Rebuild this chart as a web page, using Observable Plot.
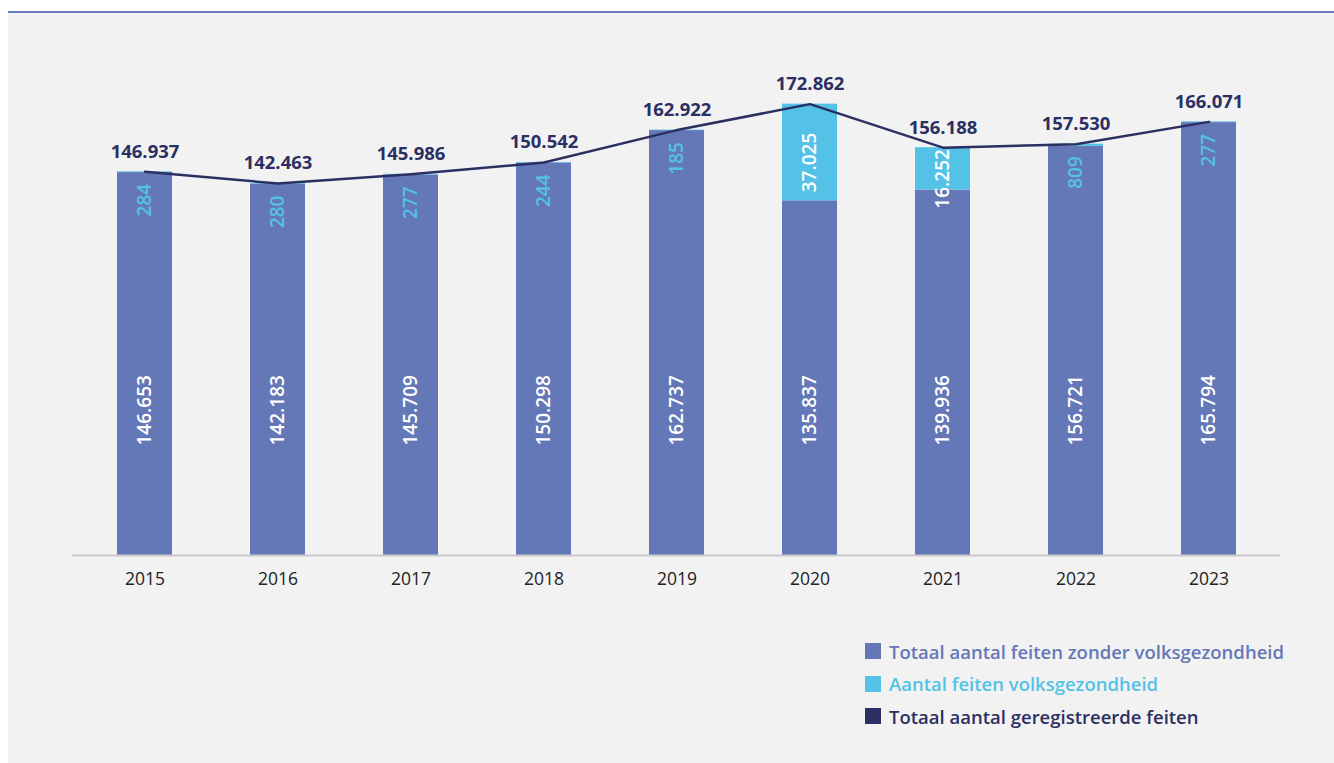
<!DOCTYPE html>
<html>
<head>
<meta charset="utf-8">
<script src="https://cdn.jsdelivr.net/npm/d3@7"></script>
<script src="https://cdn.jsdelivr.net/npm/@observablehq/plot@0.6"></script>
<style>
  html, body { margin: 0; padding: 0; background: #ffffff; }
  body { width: 1334px; height: 763px; position: relative; overflow: hidden; font-family: "Open Sans", sans-serif; }
  #panel { position: absolute; left: 8px; top: 11px; width: 1326px; height: 752px; background: #f2f2f2; border-top: 2px solid #6b7bbf; }
  #chart { position: absolute; left: 0; top: 0; }
  #legend { position: absolute; left: 857px; top: 622px; }
  .item { display: flex; align-items: center; height: 32.5px; font-size: 18.5px; font-weight: 600; }
  .sw { width: 16px; height: 16px; margin-right: 8px; }
</style>
</head>
<body>
<div id="panel">
  <div id="chart"></div>
  <div id="legend"></div>
</div>
<script>
const years = ["2015", "2016", "2017", "2018", "2019", "2020", "2021", "2022", "2023"];
const zonderVolks = [146653, 142183, 145709, 150298, 162737, 135837, 139936, 156721, 165794];
const volks = [284, 280, 277, 244, 185, 37025, 16252, 809, 277];
const totaal = [146937, 142463, 145986, 150542, 162922, 172862, 156188, 157530, 166071];
const seriesNames = [
  "Totaal aantal feiten zonder volksgezondheid",
  "Aantal feiten volksgezondheid",
  "Totaal aantal geregistreerde feiten"
];
const colors = ["#6478b8", "#54c1e6", "#2b2f62"];

const nl = d3.formatLocale({decimal: ",", thousands: ".", grouping: [3], currency: ["€", ""]});
const fmt = nl.format(",d");

const rows = years.map((y, i) => ({year: y, zonder: zonderVolks[i], volks: volks[i], total: totaal[i]}));
const stacked = [];
rows.forEach(r => {
  stacked.push({year: r.year, series: seriesNames[0], value: r.zonder});
  stacked.push({year: r.year, series: seriesNames[1], value: r.volks});
});

const chart = Plot.plot({
  width: 1326,
  height: 600,
  marginLeft: 64,
  marginRight: 54,
  marginTop: 72,
  marginBottom: 58,
  style: {background: "transparent", fontFamily: "Open Sans, sans-serif", fontSize: "17.5px", color: "#222"},
  x: {domain: years, paddingInner: 0.59, paddingOuter: 0.32, label: null, tickSize: 0, tickPadding: 17},
  y: {domain: [0, 180000], axis: null},
  color: {domain: seriesNames.slice(0, 2), range: colors.slice(0, 2)},
  marks: [
    Plot.barY(stacked, Plot.stackY({x: "year", y: "value", fill: "series", order: seriesNames.slice(0, 2)})),
    Plot.ruleY([0], {stroke: "#c9c9c9", strokeWidth: 2}),
    Plot.line(rows, {x: "year", y: "total", stroke: colors[2], strokeWidth: 2.5}),
    Plot.text(rows, {x: "year", y: "total", text: d => fmt(d.total), dy: -20, fill: colors[2], fontSize: 18.5, fontWeight: 700}),
    Plot.text(rows, {x: "year", y: d => 0, text: d => fmt(d.zonder), rotate: -90, textAnchor: "start", dy: -110, fill: "#ffffff", fontSize: 19, fontWeight: 600}),
    Plot.text(rows.filter(d => d.volks < 5000), {x: "year", y: "total", text: d => fmt(d.volks), rotate: -90, textAnchor: "end", dy: 12, fill: colors[1], fontSize: 19, fontWeight: 600}),
    Plot.text(rows.filter(d => d.volks >= 5000), {x: "year", y: d => d.zonder + d.volks / 2, text: d => fmt(d.volks), rotate: -90, textAnchor: "middle", dy: 10, fill: "#ffffff", fontSize: 19, fontWeight: 600})
  ]
});
document.getElementById("chart").appendChild(chart);

const legend = document.getElementById("legend");
seriesNames.forEach((name, i) => {
  const item = document.createElement("div");
  item.className = "item";
  item.style.color = colors[i];
  const sw = document.createElement("span");
  sw.className = "sw";
  sw.style.background = colors[i];
  const t = document.createElement("span");
  t.textContent = name;
  item.appendChild(sw);
  item.appendChild(t);
  legend.appendChild(item);
});
</script>
</body>
</html>
